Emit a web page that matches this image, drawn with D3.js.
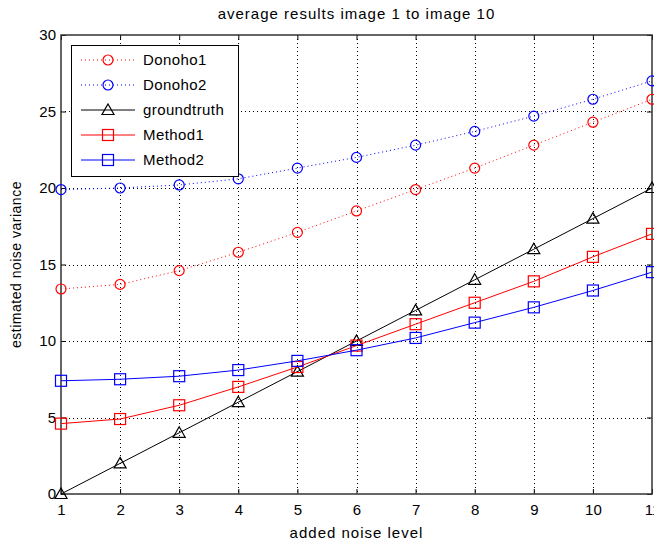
<!DOCTYPE html>
<html>
<head>
<meta charset="utf-8">
<script src="https://cdn.jsdelivr.net/npm/d3@7"></script>
<style>
  body { margin: 0; background: #fff; }
  text { font-family: "Liberation Sans", Arial, sans-serif; fill: #000; }
</style>
</head>
<body>
<div id="container"></div>
<script>
/* DATA */
const noiseLevels = [1, 2, 3, 4, 5, 6, 7, 8, 9, 10, 11];
const donoho1 = [13.4, 13.7, 14.6, 15.8, 17.1, 18.5, 19.9, 21.3, 22.8, 24.3, 25.8];
const donoho2 = [19.9, 20.0, 20.2, 20.6, 21.3, 22.0, 22.8, 23.7, 24.7, 25.8, 27.0];
const groundtruth = [0, 2, 4, 6, 8, 10, 12, 14, 16, 18, 20];
const method1 = [4.6, 4.9, 5.8, 7.0, 8.3, 9.7, 11.1, 12.5, 13.9, 15.5, 17.0];
const method2 = [7.4, 7.5, 7.7, 8.1, 8.7, 9.4, 10.2, 11.2, 12.2, 13.3, 14.5];
const yTicks = [0, 5, 10, 15, 20, 25, 30];

const seriesNames = ["Donoho1", "Donoho2", "groundtruth", "Method1", "Method2"];
const seriesValues = [donoho1, donoho2, groundtruth, method1, method2];
const seriesColors = ["#ff0000", "#0000ff", "#000000", "#ff0000", "#0000ff"];
const seriesDash = ["1,3", "1,3", null, null, null];
const seriesMarker = ["circle", "circle", "triangle", "square", "square"];

/* CONSTANTS */
const W = 654, H = 546;
const margin = { top: 35, right: 2, bottom: 52, left: 61 };

const svg = d3.select("#container")
  .append("svg")
  .attr("width", W)
  .attr("height", H);

const xScale = d3.scaleLinear()
  .domain([1, 11])
  .range([margin.left, W - margin.right]);

const yScale = d3.scaleLinear()
  .domain([0, 30])
  .range([H - margin.bottom, margin.top]);

const x0 = xScale.range()[0], x1 = xScale.range()[1];
const y0 = yScale.range()[0], y1 = yScale.range()[1];

// grid
const grid = svg.append("g")
  .attr("stroke", "#000")
  .attr("stroke-width", 1)
  .attr("stroke-dasharray", "1,3");

grid.selectAll(".vgrid")
  .data(noiseLevels.slice(1, -1))
  .join("line")
  .attr("x1", d => Math.round(xScale(d)) + 0.5)
  .attr("x2", d => Math.round(xScale(d)) + 0.5)
  .attr("y1", y1)
  .attr("y2", y0);

grid.selectAll(".hgrid")
  .data(yTicks.slice(1, -1))
  .join("line")
  .attr("x1", x0)
  .attr("x2", x1)
  .attr("y1", d => Math.round(yScale(d)) + 0.5)
  .attr("y2", d => Math.round(yScale(d)) + 0.5);

// axes
svg.append("g")
  .attr("transform", `translate(0,${y0})`)
  .call(d3.axisBottom(xScale).tickValues(noiseLevels).tickSize(-5).tickPadding(10).tickFormat(d3.format("d")));

svg.append("g")
  .attr("transform", `translate(${x0},0)`)
  .call(d3.axisLeft(yScale).tickValues(yTicks).tickSize(-5).tickPadding(5));

// top and right ticks
svg.append("g")
  .attr("transform", `translate(0,${y1})`)
  .call(d3.axisTop(xScale).tickValues(noiseLevels).tickSize(-5).tickFormat(""));
svg.append("g")
  .attr("transform", `translate(${x1},0)`)
  .call(d3.axisRight(yScale).tickValues(yTicks).tickSize(-5).tickFormat(""));

svg.selectAll(".domain").remove();
svg.selectAll(".tick text")
  .style("font-size", "15px")
  .style("font-family", "'Liberation Sans', Arial, sans-serif");

// box
svg.append("rect")
  .attr("x", x0)
  .attr("y", y1)
  .attr("width", x1 - x0)
  .attr("height", y0 - y1)
  .attr("fill", "none")
  .attr("stroke", "#333")
  .attr("stroke-width", 1.5);

// lines
const line = d3.line()
  .x((d, i) => xScale(noiseLevels[i]))
  .y(d => yScale(d));

function drawMarker(g, type, color) {
  if (type === "circle") {
    g.append("circle").attr("r", 5).attr("fill", "none").attr("stroke", color).attr("stroke-width", 1.2);
  } else if (type === "square") {
    g.append("rect").attr("x", -5.5).attr("y", -5.5).attr("width", 11).attr("height", 11)
      .attr("fill", "none").attr("stroke", color).attr("stroke-width", 1.2);
  } else {
    g.append("path").attr("d", "M0,-6L6,4.5L-6,4.5Z")
      .attr("fill", "none").attr("stroke", color).attr("stroke-width", 1.2);
  }
}

seriesValues.forEach((vals, k) => {
  svg.append("path")
    .datum(vals)
    .attr("d", line)
    .attr("fill", "none")
    .attr("stroke", seriesColors[k])
    .attr("stroke-width", 1)
    .attr("stroke-dasharray", seriesDash[k]);

  svg.selectAll(".m" + k)
    .data(vals)
    .join("g")
    .attr("class", "m" + k)
    .attr("transform", (d, i) => `translate(${xScale(noiseLevels[i])},${yScale(d)})`)
    .each(function () { drawMarker(d3.select(this), seriesMarker[k], seriesColors[k]); });
});

// legend
const legend = svg.append("g");
legend.append("rect")
  .attr("x", 71.5)
  .attr("y", 45.5)
  .attr("width", 167)
  .attr("height", 131)
  .attr("fill", "#fff")
  .attr("stroke", "#000")
  .attr("stroke-width", 1);

seriesNames.forEach((name, k) => {
  const ly = 60 + k * 25;
  legend.append("line")
    .attr("x1", 81).attr("x2", 135)
    .attr("y1", ly).attr("y2", ly)
    .attr("stroke", seriesColors[k])
    .attr("stroke-width", 1)
    .attr("stroke-dasharray", seriesDash[k]);
  const mg = legend.append("g").attr("transform", `translate(108,${ly})`);
  drawMarker(mg, seriesMarker[k], seriesColors[k]);
  legend.append("text")
    .attr("x", 143)
    .attr("y", ly + 5)
    .style("font-size", "15px")
    .style("letter-spacing", "0.4px")
    .text(name);
});

// titles
svg.append("text")
  .attr("x", (x0 + x1) / 2)
  .attr("y", 19)
  .attr("text-anchor", "middle")
  .style("font-size", "15px")
  .style("letter-spacing", "1px")
  .text("average results image 1 to image 10");

svg.append("text")
  .attr("x", (x0 + x1) / 2)
  .attr("y", 538)
  .attr("text-anchor", "middle")
  .style("font-size", "15px")
  .style("letter-spacing", "1px")
  .text("added noise level");

svg.append("text")
  .attr("transform", `translate(21,${(y0 + y1) / 2}) rotate(-90)`)
  .attr("text-anchor", "middle")
  .style("font-size", "14px")
  .style("letter-spacing", "0.5px")
  .text("estimated noise variance");
</script>
</body>
</html>
